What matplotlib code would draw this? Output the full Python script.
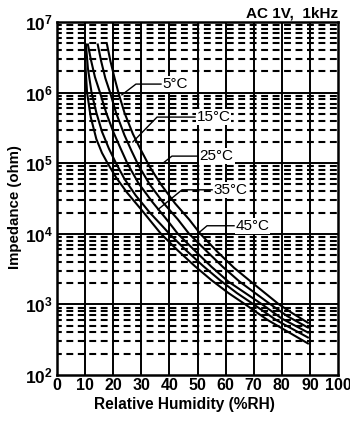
import matplotlib
matplotlib.use('Agg')
import matplotlib.pyplot as plt
import matplotlib.transforms as mtransforms
from matplotlib.ticker import NullLocator

plt.rcParams['font.family'] = 'Liberation Sans'
plt.rcParams['mathtext.fontset'] = 'custom'
plt.rcParams['mathtext.rm'] = 'Liberation Sans:bold'
plt.rcParams['mathtext.it'] = 'Liberation Sans:bold'
plt.rcParams['mathtext.bf'] = 'Liberation Sans:bold'

# impedance vs relative humidity, one curve per temperature
rh_5 = [17.8, 19, 20.5, 22, 24, 27, 30, 33, 37, 42, 47, 51, 57, 63, 69, 74, 79, 84, 89.3]
z_5 = [4.8e6, 2.8e6, 1.6e6, 9.5e5, 5.2e5, 2.6e5, 1.5e5, 8.9e4, 5.0e4, 2.7e4, 1.6e4,
       1.0e4, 5.6e3, 3.3e3, 2.1e3, 1.45e3, 1.0e3, 740, 550]

rh_15 = [14.5, 15.7, 17.2, 18.9, 21, 24, 26.5, 29, 33, 38, 43, 47, 53, 59, 65, 71, 76, 82, 89.3]
z_15 = [4.8e6, 2.8e6, 1.6e6, 1.0e6, 5.2e5, 2.5e5, 1.5e5, 9.3e4, 5.0e4, 2.7e4, 1.6e4,
        1.0e4, 5.8e3, 3.4e3, 2.1e3, 1.4e3, 1.0e3, 680, 470]

rh_25 = [11, 12, 13.5, 15.3, 17.5, 20, 22.5, 25, 29, 34, 39, 43, 49, 55, 61, 67, 73, 80, 89.3]
z_25 = [4.8e6, 3.0e6, 1.66e6, 1.0e6, 5.2e5, 2.8e5, 1.66e5, 1.0e5, 5.2e4, 2.8e4, 1.6e4,
        1.0e4, 5.8e3, 3.4e3, 2.1e3, 1.45e3, 1.0e3, 630, 400]

rh_35 = [10.3, 11, 12.3, 14, 16, 18.5, 21, 24, 28, 33, 37, 40, 46, 52, 58, 64, 70, 78, 89.3]
z_35 = [4.8e6, 2.2e6, 1.0e6, 5.2e5, 2.8e5, 1.6e5, 1.0e5, 6.0e4, 3.5e4, 2.0e4, 1.35e4,
        1.0e4, 5.8e3, 3.5e3, 2.2e3, 1.45e3, 1.0e3, 600, 340]

rh_45 = [10, 10.3, 10.7, 12, 14, 16, 18, 21, 25, 30, 34, 37, 43, 49, 55, 61, 67, 75, 89.3]
z_45 = [3.3e6, 1.8e6, 1.0e6, 4.5e5, 2.2e5, 1.4e5, 1.0e5, 6.3e4, 3.8e4, 2.2e4, 1.4e4,
        1.0e4, 5.8e3, 3.5e3, 2.2e3, 1.45e3, 1.0e3, 600, 280]

curves = [(rh_5, z_5), (rh_15, z_15), (rh_25, z_25), (rh_35, z_35), (rh_45, z_45)]

# leader lines: (label, tip, elbow, end of horizontal run)
labels = ['5°C', '15°C', '25°C', '35°C', '45°C']
tips = [(23.1, 9.3e5), (27.0, 2.0e5), (37.7, 1.0e5), (35.9, 2.2e4), (50.9, 1.07e4)]
elbows = [(28.1, 1.32e6), (35.6, 4.5e5), (40.9, 1.26e5), (44.5, 4.2e4), (53.4, 1.3e4)]
run_ends = [37.0, 49.1, 50.2, 55.2, 63.0]

x_ticks = list(range(0, 101, 10))
# the humidity numbers sit a little left of their grid lines, more so at the right end
x_label_shift = [0.5, 0, -2.5, -1.5, -3, -2, -3, -4, -3, -10, -10.5]
y_decades = [2, 3, 4, 5, 6, 7]

fig = plt.figure(figsize=(3.5, 4.23), dpi=100)
ax = fig.add_axes([57 / 350, 48 / 423, 281 / 350, 353 / 423])
ax.set_yscale('log')
ax.set_xlim(0, 100)
ax.set_ylim(1e2, 1e7)

# grid: solid at tens / decades, dashed at the minor decades
for x in x_ticks[1:-1]:
    ax.axvline(x, color='black', lw=1.4, zorder=1)
for k in y_decades[1:-1]:
    ax.axhline(10 ** k, color='black', lw=1.4, zorder=1)
for k in y_decades[:-1]:
    for m in range(2, 10):
        ax.axhline(m * 10 ** k, color='black', lw=1.5, linestyle=(1, (3.3, 2.2)), zorder=1)

for rh, z in curves:
    ax.plot(rh, z, color='black', lw=1.5, zorder=3)

for lab, tip, elb, xe in zip(labels, tips, elbows, run_ends):
    ax.plot([tip[0], elb[0], xe], [tip[1], elb[1], elb[1]], color='black', lw=1.0, zorder=4)
    ax.text(xe + 0.6, elb[1], lab, ha='left', va='center', fontsize=11, zorder=5,
            bbox=dict(facecolor='white', edgecolor='none', pad=0.5))

ax.set_xticks(x_ticks)
ax.set_xticklabels([str(v) for v in x_ticks], fontweight='bold', fontsize=11.5)
for lbl, dx in zip(ax.get_xticklabels(), x_label_shift):
    lbl.set_transform(lbl.get_transform() +
                      mtransforms.ScaledTranslation(dx / 100, 0, fig.dpi_scale_trans))
ax.set_yticks([10.0 ** k for k in y_decades])
ax.set_yticklabels([r'$10^{%d}$' % k for k in y_decades], fontsize=12.5)
ax.yaxis.set_minor_locator(NullLocator())
ax.tick_params(axis='x', length=0, pad=2)
ax.tick_params(axis='y', length=0, pad=3)
for s in ax.spines.values():
    s.set_linewidth(1.8)

fig.text(184.5 / 350, 1 - 404 / 423, 'Relative Humidity (%RH)', ha='center', va='center',
         fontweight='bold', fontsize=11.2)
fig.text(15 / 350, 1 - 207 / 423, 'Impedance (ohm)', ha='center', va='center',
         rotation=90, fontweight='bold', fontsize=10.8)
fig.text(338 / 350, 1 - 13 / 423, 'AC 1V,  1kHz', ha='right', va='center',
         fontweight='bold', fontsize=11)

fig.savefig('out.png', dpi=100)
